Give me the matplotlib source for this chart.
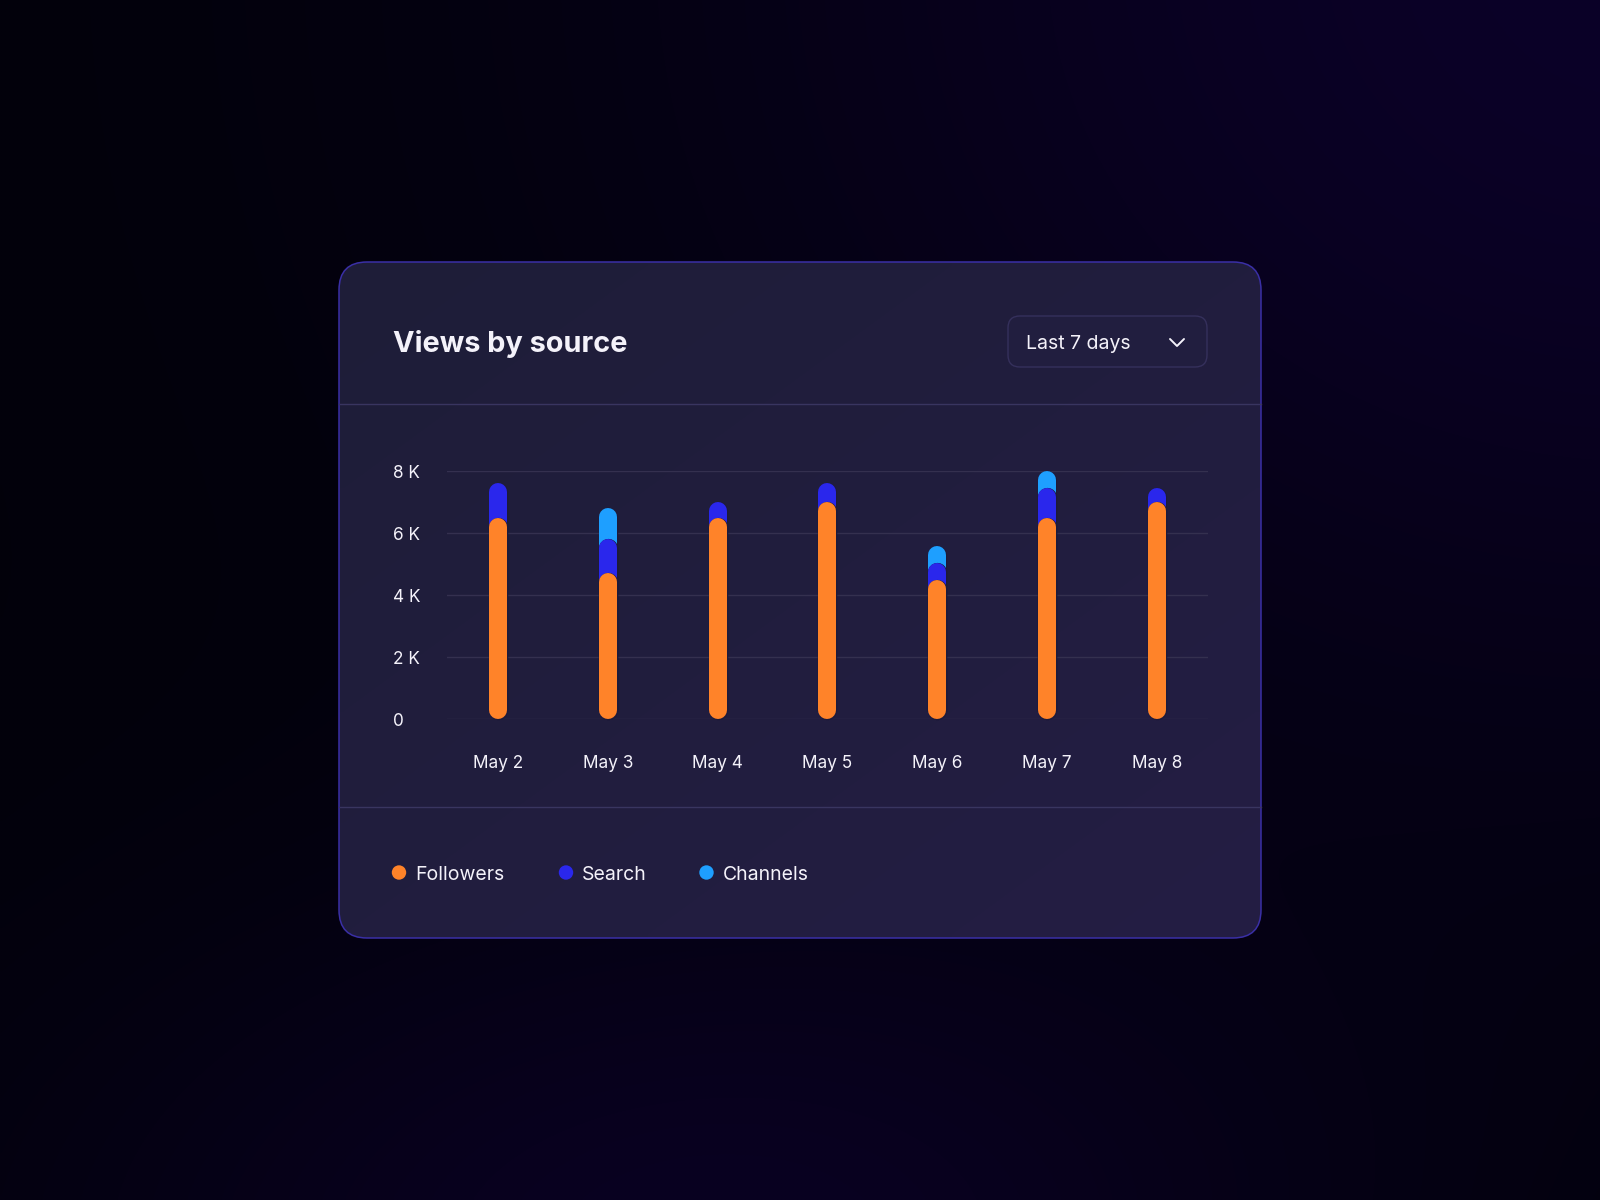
import numpy as np
import matplotlib
matplotlib.use("Agg")
import matplotlib.pyplot as plt
from matplotlib.patches import FancyBboxPatch, Circle
import matplotlib.patheffects as pe

# ---------------- data ----------------
days = ["May 2", "May 3", "May 4", "May 5", "May 6", "May 7", "May 8"]
followers = [6500, 4700, 6500, 7000, 4500, 6500, 7000]
search = [1100, 1100, 500, 600, 520, 950, 450]
channels = [0, 1000, 0, 0, 570, 550, 0]
yticks = [0, 2000, 4000, 6000, 8000]
ytick_labels = ["0", "2 K", "4 K", "6 K", "8 K"]
series_names = ["Followers", "Search", "Channels"]
title = "Views by source"
dropdown_label = "Last 7 days"

C_FOLLOW = "#FF8329"
C_SEARCH = "#2A27EC"
C_CHAN = "#1E9FFF"
TEXT = "#F4F2FA"
FONT = ["Inter", "DejaVu Sans"]
plt.rcParams["font.family"] = FONT

W, H = 1600, 1200
fig = plt.figure(figsize=(16, 12), dpi=100)

# ---------------- backdrop (pixel-coordinate overlay) ----------------
bg = fig.add_axes([0, 0, 1, 1], zorder=0)
bg.set_xlim(0, W)
bg.set_ylim(H, 0)
bg.axis("off")

yy, xx = np.mgrid[0:H:4, 0:W:4]
base = np.array([2, 1, 10]) / 255.0
glow = np.array([11, 1, 40]) / 255.0
g1 = np.exp(-(((xx - 1650) / 950.0) ** 2 + ((yy + 50) / 800.0) ** 2))
g2 = np.exp(-(((xx - 700) / 650.0) ** 2 + ((yy - 1250) / 350.0) ** 2))
g = np.clip(g1 + 0.75 * g2, 0, 1)[..., None]
img = base + (glow - base) * g
bg.imshow(img, extent=[0, W, H, 0], interpolation="bilinear", zorder=0, aspect="auto")

# card
cx0, cy0, cx1, cy1 = 339, 262, 1261, 938
card = FancyBboxPatch((cx0, cy0), cx1 - cx0, cy1 - cy0,
                      boxstyle="round,pad=0,rounding_size=28",
                      facecolor="#201d3b", edgecolor="none", linewidth=0, zorder=1)
bg.add_patch(card)
cyy, cxx = np.mgrid[0:100, 0:100] / 99.0
c0 = np.array([0x1e, 0x1d, 0x38]) / 255.0
c1 = np.array([0x24, 0x1e, 0x44]) / 255.0
t = ((cxx + cyy) / 2.0)[..., None]
cimg = c0 + (c1 - c0) * t
im = bg.imshow(cimg, extent=[cx0, cx1, cy1, cy0], interpolation="bilinear", zorder=1.1, aspect="auto")
im.set_clip_path(card)
bg.add_patch(FancyBboxPatch((cx0, cy0), cx1 - cx0, cy1 - cy0,
                            boxstyle="round,pad=0,rounding_size=28",
                            facecolor="none", edgecolor="#3a2fa6", linewidth=1.1, zorder=1.2))

# dividers
for ydiv in (404, 807):
    bg.plot([cx0, cx1], [ydiv, ydiv], color="#393560", lw=1.0, zorder=1.3)

# title
bg.text(393, 351.5, title, color=TEXT, fontsize=20.8, fontweight="bold",
        ha="left", va="baseline", zorder=2)

# dropdown
bg.add_patch(FancyBboxPatch((1008, 316), 199, 51, boxstyle="round,pad=0,rounding_size=12",
                            facecolor="#211e3f", edgecolor="#35305c", linewidth=1.0, zorder=1.5))
bg.text(1026, 349.3, dropdown_label, color=TEXT, fontsize=14.0, ha="left", va="baseline", zorder=2)
bg.plot([1170, 1177, 1184], [339, 346, 339], color=TEXT, lw=1.4, solid_capstyle="round",
        solid_joinstyle="round", zorder=2)

# legend (manual swatches)
leg_items = [(399, 415, C_FOLLOW), (566, 581.5, C_SEARCH), (706.5, 722.5, C_CHAN)]
for name, (mx, tx, col) in zip(series_names, leg_items):
    bg.add_patch(Circle((mx, 872.5), 7.2, facecolor=col, edgecolor="none", zorder=2))
    bg.text(tx, 880, name, color=TEXT, fontsize=14.0, ha="left", va="baseline", zorder=2)

# ---------------- chart axes ----------------
ax_left, ax_right = 447, 1208
ax_top, ax_bot = 471, 719.3
ax = fig.add_axes([ax_left / W, (H - ax_bot) / H, (ax_right - ax_left) / W, (ax_bot - ax_top) / H],
                  zorder=5)
ax.set_facecolor("none")
ax.set_ylim(0, 8000)
ax.set_xlim(-0.4645, 6.466)
for s in ax.spines.values():
    s.set_visible(False)
ax.set_yticks(yticks)
ax.set_yticklabels(ytick_labels)
ax.set_xticks(range(len(days)))
ax.set_xticklabels(days)
ax.tick_params(axis="both", length=0, colors=TEXT, labelsize=12.4)
ax.tick_params(axis="y", pad=38.9)
for lab in ax.get_yticklabels():
    lab.set_horizontalalignment("left")
ax.tick_params(axis="x", pad=26)
ax.grid(axis="y", color="#34304f", lw=1.0)
ax.set_axisbelow(True)

# capsule bars
bar_px = 18
lw_pt = bar_px * 72 / fig.dpi
px_per_unit = (ax_bot - ax_top) / 8000.0
r = (bar_px / 2) / px_per_unit
outline = [pe.Stroke(linewidth=lw_pt + 0.9, foreground="#1d1a3a"), pe.Normal()]

def capsule(x, top, color, z):
    ln, = ax.plot([x, x], [r, top - r], color=color, lw=lw_pt, solid_capstyle="round",
                  zorder=z, clip_on=False)
    ln.set_path_effects(outline)

for i in range(len(days)):
    f = followers[i]
    fs = f + search[i]
    tot = fs + channels[i]
    if channels[i] > 0:
        capsule(i, tot, C_CHAN, 3)
    if search[i] > 0:
        capsule(i, fs, C_SEARCH, 4)
    capsule(i, f, C_FOLLOW, 5)

fig.savefig("out.png", dpi=100)
